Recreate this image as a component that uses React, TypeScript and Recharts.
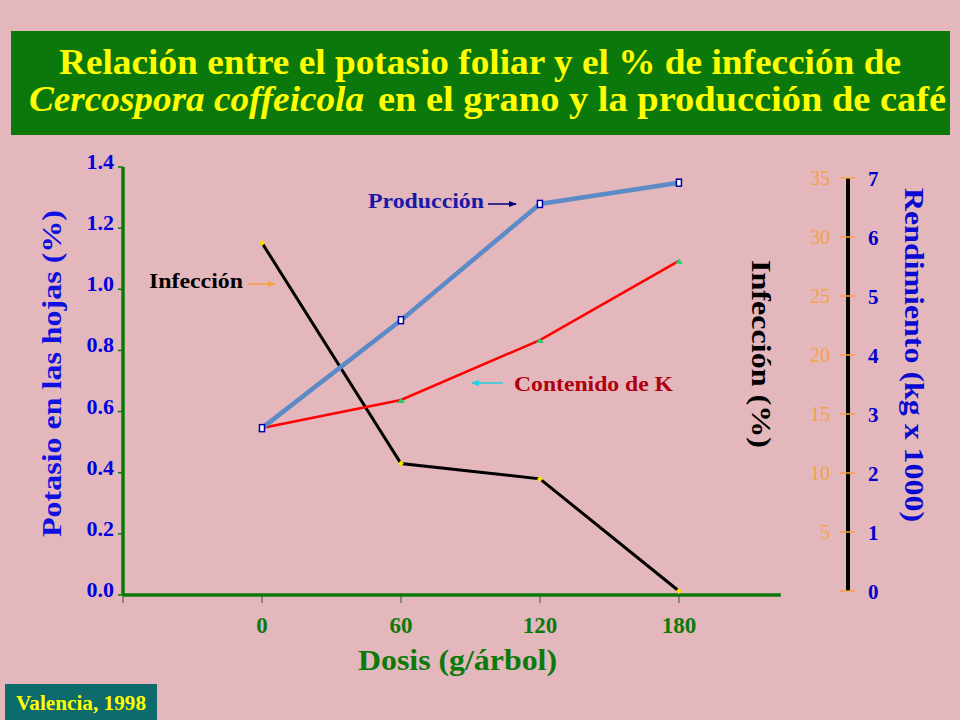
import React from 'react';
import { LineChart, Line, XAxis, YAxis, ReferenceLine } from 'recharts';

// dosis de potasio (g/árbol)
const doses = [0, 60, 120, 180];
// contenido de K en hojas (%), eje izquierdo
const potassium = [0.546, 0.638, 0.834, 1.093];
// infección de Cercospora (%), eje derecho naranja
const infection = [29.5, 10.8, 9.5, 0];
// rendimiento (kg x 1000), eje derecho azul
const yieldKg = [2.76, 4.59, 6.56, 6.92];

const doseTicks = [-60, 0, 60, 120, 180];
const potassiumTicks = [0, 0.2, 0.4, 0.6, 0.8, 1.0, 1.2, 1.4];
const infectionTicks = [0, 5, 10, 15, 20, 25, 30, 35];
const yieldTicks = [0, 1, 2, 3, 4, 5, 6, 7];

const data = doses.map((d, i) => ({
  dose: d,
  k: potassium[i],
  inf: infection[i],
  prod: yieldKg[i],
}));

const SERIF = '"Liberation Serif", "Times New Roman", serif';
const GREEN = '#0b7a0b';
const BG = '#e4b7bc';

const LeftTick = (props: any) => {
  const { x, y, payload } = props;
  return (
    <text x={x} y={y} dy={2} textAnchor="end" fill="#0000e0" fontFamily={SERIF} fontWeight="bold" fontSize={22}>
      {Number(payload.value).toFixed(1)}
    </text>
  );
};

const InfTick = (props: any) => {
  const { x, y, payload } = props;
  if (payload.value === 0) return null;
  return (
    <text x={x} y={y} dy="0.36em" textAnchor="end" fill="#f4a244" fontFamily={SERIF} fontSize={20}>
      {payload.value}
    </text>
  );
};

const YieldTick = (props: any) => {
  const { x, y, payload } = props;
  return (
    <text x={x} y={y} dy="0.36em" textAnchor="start" fill="#0000cc" fontFamily={SERIF} fontWeight="bold" fontSize={21}>
      {payload.value}
    </text>
  );
};

const DoseTick = (props: any) => {
  const { x, y, payload } = props;
  if (payload.value < 0) return null;
  return (
    <text x={x} y={y} dy="0.71em" textAnchor="middle" fill={GREEN} fontFamily={SERIF} fontWeight="bold" fontSize={23}>
      {payload.value}
    </text>
  );
};

const KDot = (props: any) => {
  const { cx, cy, index } = props;
  return <path key={`k-${index}`} d={`M${cx - 4},${cy + 3} L${cx},${cy - 2} L${cx + 4},${cy + 3} Z`} fill="#22cc66" />;
};

const InfDot = (props: any) => {
  const { cx, cy, index } = props;
  return <path key={`i-${index}`} d={`M${cx},${cy - 3} L${cx + 3},${cy} L${cx},${cy + 3} L${cx - 3},${cy} Z`} fill="#f5e000" />;
};

const ProdDot = (props: any) => {
  const { cx, cy, index } = props;
  return <rect key={`p-${index}`} x={cx - 2.5} y={cy - 3.5} width={5} height={7} fill="#ffffff" stroke="#0000aa" strokeWidth={1.5} />;
};

export default function App() {
  return (
    <div style={{ position: 'absolute', left: 0, top: 0, width: 960, height: 720, background: BG, overflow: 'hidden' }}>
      <LineChart width={960} height={720} data={data} margin={{ top: 167, right: 0, bottom: 0, left: 0 }}>
        <XAxis
          dataKey="dose"
          type="number"
          domain={[-60, 253]}
          allowDataOverflow
          ticks={doseTicks}
          height={125}
          axisLine={false}
          tickLine={{ stroke: '#2f5a2f', strokeWidth: 1 }}
          tickSize={8}
          tickMargin={14}
          tick={<DoseTick />}
        />
        <YAxis
          yAxisId="left"
          orientation="left"
          width={123}
          domain={[0, 1.4]}
          allowDataOverflow
          ticks={potassiumTicks}
          axisLine={{ stroke: GREEN, strokeWidth: 3.5 }}
          tickLine={{ stroke: GREEN, strokeWidth: 1.5 }}
          tickSize={5}
          tickMargin={4}
          tick={<LeftTick />}
        />
        <YAxis
          yAxisId="inf"
          orientation="right"
          mirror
          width={60}
          domain={[-0.34, 35.93]}
          allowDataOverflow
          ticks={infectionTicks}
          axisLine={false}
          tickLine={{ stroke: '#f4a244', strokeWidth: 1.5 }}
          tickSize={8}
          tickMargin={10}
          tick={<InfTick />}
        />
        <YAxis
          yAxisId="rend"
          orientation="right"
          width={112}
          domain={[-0.068, 7.186]}
          allowDataOverflow
          ticks={yieldTicks}
          axisLine={false}
          tickLine={{ stroke: '#f4a244', strokeWidth: 1.5 }}
          tickSize={7}
          tickMargin={13}
          tick={<YieldTick />}
        />
        <ReferenceLine
          yAxisId="left"
          segment={[{ x: -60, y: 0 }, { x: 224, y: 0 }]}
          stroke={GREEN}
          strokeWidth={3.5}
        />
        <ReferenceLine
          yAxisId="inf"
          segment={[{ x: 253, y: 0 }, { x: 253, y: 35 }]}
          stroke="#000000"
          strokeWidth={4}
        />
        <Line yAxisId="inf" dataKey="inf" stroke="#000000" strokeWidth={3} dot={<InfDot />} isAnimationActive={false} />
        <Line yAxisId="left" dataKey="k" stroke="#ff0000" strokeWidth={2.5} dot={<KDot />} isAnimationActive={false} />
        <Line yAxisId="rend" dataKey="prod" stroke="#5b8ac6" strokeWidth={4.5} dot={<ProdDot />} isAnimationActive={false} />
      </LineChart>

      <svg width={960} height={720} style={{ position: 'absolute', left: 0, top: 0, pointerEvents: 'none' }} fontFamily={SERIF}>
        <defs>
          <marker id="arrNavy" markerWidth="8" markerHeight="8" refX="7" refY="4" orient="auto" markerUnits="userSpaceOnUse">
            <path d="M0,1 L8,4 L0,7 Z" fill="#000080" />
          </marker>
          <marker id="arrCyan" markerWidth="8" markerHeight="8" refX="7" refY="4" orient="auto" markerUnits="userSpaceOnUse">
            <path d="M0,1 L8,4 L0,7 Z" fill="#22d0e0" />
          </marker>
          <marker id="arrOrange" markerWidth="8" markerHeight="8" refX="7" refY="4" orient="auto" markerUnits="userSpaceOnUse">
            <path d="M0,1 L8,4 L0,7 Z" fill="#f4a244" />
          </marker>
        </defs>

        <rect x={11} y={31} width={939} height={104} fill="#0a780a" />
        <text x={59} y={74} textLength={842} lengthAdjust="spacingAndGlyphs" fill="#ffff00" fontWeight="bold" fontSize={35}>
          Relación entre el potasio foliar y el % de infección de
        </text>
        <text x={29} y={111} textLength={335} lengthAdjust="spacingAndGlyphs" fill="#ffff00" fontWeight="bold" fontStyle="italic" fontSize={35}>
          Cercospora coffeicola
        </text>
        <text x={378} y={111} textLength={568} lengthAdjust="spacingAndGlyphs" fill="#ffff00" fontWeight="bold" fontSize={35}>
          en el grano y la producción de café
        </text>

        <text transform="translate(61,537) rotate(-90)" textLength={327} lengthAdjust="spacingAndGlyphs" fill="#1010e0" fontWeight="bold" fontSize={27}>
          Potasio en las hojas (%)
        </text>
        <text transform="translate(752,260) rotate(90)" textLength={188} lengthAdjust="spacingAndGlyphs" fill="#000000" fontWeight="bold" fontSize={27}>
          Infección (%)
        </text>
        <text transform="translate(905,188) rotate(90)" textLength={334} lengthAdjust="spacingAndGlyphs" fill="#0a0ad0" fontWeight="bold" fontSize={27}>
          Rendimiento (kg x 1000)
        </text>
        <text x={358} y={670} textLength={199} lengthAdjust="spacingAndGlyphs" fill={GREEN} fontWeight="bold" fontSize={30}>
          Dosis (g/árbol)
        </text>

        <text x={368} y={208} textLength={116} lengthAdjust="spacingAndGlyphs" fill="#1a1aa8" fontWeight="bold" fontSize={21}>
          Producción
        </text>
        <line x1={488} y1={204} x2={516} y2={204} stroke="#000080" strokeWidth={1.5} markerEnd="url(#arrNavy)" />

        <text x={514} y={391} textLength={159} lengthAdjust="spacingAndGlyphs" fill="#b00010" fontWeight="bold" fontSize={21}>
          Contenido de K
        </text>
        <line x1={503} y1={383} x2={472} y2={383} stroke="#22d0e0" strokeWidth={1.5} markerEnd="url(#arrCyan)" />

        <text x={149} y={288} textLength={94} lengthAdjust="spacingAndGlyphs" fill="#000000" fontWeight="bold" fontSize={21}>
          Infección
        </text>
        <line x1={248} y1={284} x2={275} y2={284} stroke="#f4a244" strokeWidth={1.5} markerEnd="url(#arrOrange)" />

        <rect x={5} y={684} width={152} height={40} fill="#0d6b6b" />
        <text x={16} y={710} textLength={130} lengthAdjust="spacingAndGlyphs" fill="#ffff00" fontWeight="bold" fontSize={20}>
          Valencia, 1998
        </text>
      </svg>
    </div>
  );
}
